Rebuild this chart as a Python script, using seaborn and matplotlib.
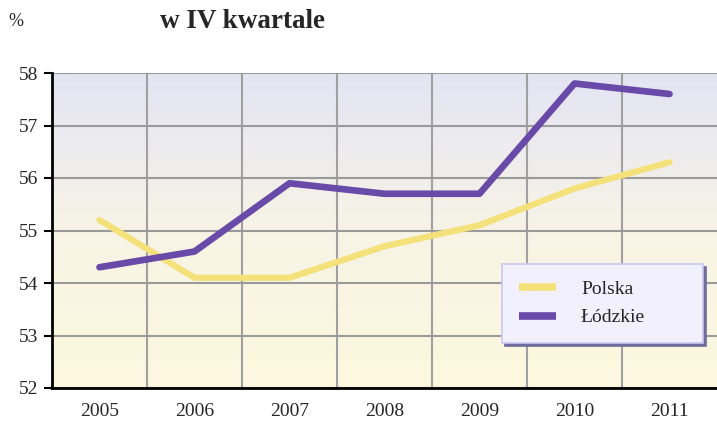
import numpy as np
import pandas as pd
import matplotlib
matplotlib.use("Agg")
import matplotlib.pyplot as plt
import seaborn as sns
from matplotlib.colors import LinearSegmentedColormap

years = ["2005", "2006", "2007", "2008", "2009", "2010", "2011"]
polska = [55.2, 54.1, 54.1, 54.7, 55.1, 55.8, 56.3]
lodzkie = [54.3, 54.6, 55.9, 55.7, 55.7, 57.8, 57.6]
series_names = ["Polska", "Łódzkie"]
series_colors = ["#f5e17a", "#6a4aa8"]

df = pd.DataFrame({
    "rok": years * 2,
    "wartosc": polska + lodzkie,
    "seria": [series_names[0]] * len(years) + [series_names[1]] * len(years),
})

sns.set_style("white")
plt.rcParams["font.family"] = ["Liberation Serif", "DejaVu Serif"]

fig = plt.figure(figsize=(7.17, 4.25), dpi=100)
ax = fig.add_axes([52 / 717, 37 / 425, 665 / 717, 315 / 425])

# background gradient: lavender at top, cream at bottom
grad = LinearSegmentedColormap.from_list("bg", ["#fdf8de", "#f7f4e6", "#e4e4f4"])
ax.imshow(np.linspace(0, 1, 256).reshape(-1, 1), cmap=grad, aspect="auto",
          origin="lower", extent=[0, 1, 0, 1], transform=ax.transAxes, zorder=0)

sns.lineplot(data=df, x="rok", y="wartosc", hue="seria", palette=series_colors,
             linewidth=4.5, ax=ax, sort=False, zorder=3)
ax.lines[1].set_linewidth(4.8)

ax.set_xlim(-0.5, len(years) - 0.5)
ax.set_ylim(52, 58)
ax.set_yticks(range(52, 59))
ax.set_xticks(range(len(years)))
ax.set_xticklabels(years)
ax.set_xticks(np.arange(0.5, len(years) - 0.5, 1), minor=True)
ax.grid(True, which="major", axis="y", color="#9a9a9a", linewidth=1.5, zorder=1)
ax.grid(True, which="minor", axis="x", color="#a0a0a0", linewidth=1.5, zorder=1)
ax.grid(False, which="major", axis="x")
ax.set_axisbelow(True)
ax.set_xlabel("")
ax.set_ylabel("")

for s in ["top", "right"]:
    ax.spines[s].set_visible(False)
ax.spines["left"].set_color("black")
ax.spines["left"].set_linewidth(2)
ax.spines["bottom"].set_color("black")
ax.spines["bottom"].set_linewidth(2)
ax.tick_params(axis="y", which="major", left=True, length=6, width=1.5,
               color="black", labelsize=14, pad=4)
ax.tick_params(axis="x", which="both", bottom=False, labelsize=14, pad=7)

leg = ax.legend(loc="lower left", bbox_to_anchor=(0.677, 0.143, 0.302, 0.257),
                mode="expand", borderaxespad=0, frameon=True,
                shadow={"color": "#6f6c9e", "alpha": 1},
                fancybox=False, fontsize=14, handlelength=1.9, handletextpad=1.3,
                borderpad=0.85, labelspacing=0.55, title=None)
leg.get_frame().set_facecolor("#f1f0fc")
leg.get_frame().set_edgecolor("#c9c8ef")
leg.get_frame().set_linewidth(1.2)
for line in leg.get_lines():
    line.set_linewidth(5.5)
    line.set_solid_capstyle("butt")

fig.text(8 / 717, 1 - 22 / 425, "%", fontsize=13, va="center", ha="left")
fig.text(160 / 717, 1 - 22 / 425, "w IV kwartale", fontsize=19.5, fontweight="bold",
         va="center", ha="left")

fig.savefig("out.png", dpi=100)
